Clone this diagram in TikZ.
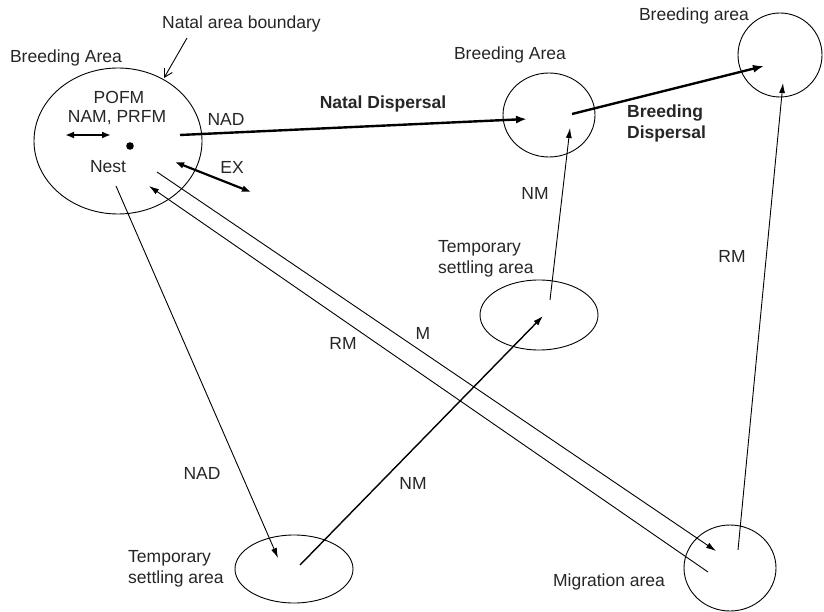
\documentclass[tikz,border=0pt]{standalone}
\usepackage{fontspec}
\setmainfont{Liberation Sans}
\usetikzlibrary{arrows.meta,shapes.geometric}
\begin{document}
\begin{tikzpicture}[x=1pt,y=-1pt,
  lbl/.style={font=\fontsize{17.5}{21}\selectfont, text=black!85, inner sep=0pt, align=left},
  blbl/.style={font=\fontsize{17.5}{21}\selectfont\bfseries, text=black!85, inner sep=0pt, align=left},
  area/.style={ellipse, draw, line width=0.9pt, inner sep=0pt},
  thinarr/.style={line width=0.9pt, -{Latex[length=10pt,width=6pt]}},
  medarr/.style={line width=1.4pt, -{Latex[length=10pt,width=6.5pt]}},
  thickarr/.style={line width=2.4pt, -{Latex[length=11pt,width=8pt]}},
  dblarr/.style={line width=2.2pt, {Latex[length=9pt,width=7pt]}-{Latex[length=9pt,width=7pt]}},
]
\fill[white] (0,0) rectangle (824,612);
\useasboundingbox (0,0) rectangle (824,612);

% areas
\node[area, minimum width=168pt, minimum height=146pt] (A) at (118,141) {};
\node[area, minimum width=92pt, minimum height=84pt] (B) at (549,115) {};
\node[area, minimum width=84pt, minimum height=84pt] (C) at (780,55) {};
\node[area, minimum width=118pt, minimum height=70pt] (T1) at (539,315) {};
\node[area, minimum width=118pt, minimum height=68pt] (T2) at (294,569) {};
\node[area, minimum width=92pt, minimum height=86pt] (Mg) at (730,568) {};

% nest dot
\fill (130,146) circle (3.8pt);
\node (nestdot) at (130,146) {};

% labels
\node[lbl] (lBA) at (66,58) {Breeding Area};
\node[lbl, anchor=west] (lNAB) at (162,24) {Natal area boundary};
\node[lbl] (lPOFM) at (119,97) {POFM};
\node[lbl] (lNAM) at (117,118) {NAM, PRFM};
\node[lbl] (lNest) at (108,167) {Nest};
\node[lbl] (lNAD) at (226,119) {NAD};
\node[lbl] (lEX) at (232,167) {EX};
\node[blbl] (lND) at (383,104) {Natal Dispersal};
\node[lbl] (lBA2) at (510,55) {Breeding Area};
\node[lbl] (lBa3) at (694,16) {Breeding area};
\node[blbl, anchor=west] (lBD) at (627,123) {Breeding\\Dispersal};
\node[lbl] (lNM1) at (535,193) {NM};
\node[lbl] (lRM1) at (732,256) {RM};
\node[lbl, anchor=west] (lT1) at (438,259) {Temporary\\settling area};
\node[lbl] (lM) at (423,333) {M};
\node[lbl] (lRM2) at (343,343) {RM};
\node[lbl] (lNAD2) at (202,473) {NAD};
\node[lbl] (lNM2) at (413,483) {NM};
\node[lbl, anchor=west] (lT2) at (128,569) {Temporary\\settling area};
\node[lbl] (lMg) at (609,582) {Migration area};

% connector endpoints
\coordinate (nabS) at (187,38);
\coordinate (nabE) at (164,78);
\coordinate (dL) at (65,135);
\coordinate (dR) at (111,135);
\coordinate (nadS) at (180,135);
\coordinate (nadE) at (527,119);
\coordinate (exS) at (175,162);
\coordinate (exE) at (251,192);
\coordinate (bdS) at (572,114);
\coordinate (bdE) at (764,66);
\coordinate (nm1S) at (550,300);
\coordinate (nm1E) at (570,128);
\coordinate (rm1S) at (738,550);
\coordinate (rm1E) at (783,83);
\coordinate (nm2S) at (300,565);
\coordinate (nm2E) at (543,316);
\coordinate (nad2S) at (116,186);
\coordinate (nad2E) at (278,558);
\coordinate (mS) at (157,172);
\coordinate (mE) at (716,551);
\coordinate (rm2S) at (708,572);
\coordinate (rm2E) at (149,186);

% connectors
\draw[line width=0.9pt, -{Straight Barb[length=8pt,width=9pt]}] (nabS) -- (nabE);
\draw[dblarr] (dL) -- (dR);
\draw[thickarr] (nadS) -- (nadE);
\draw[dblarr] (exS) -- (exE);
\draw[thickarr] (bdS) -- (bdE);
\draw[thinarr] (nm1S) -- (nm1E);
\draw[thinarr] (rm1S) -- (rm1E);
\draw[medarr] (nm2S) -- (nm2E);
\draw[thinarr] (nad2S) -- (nad2E);
\draw[thinarr] (mS) -- (mE);
\draw[thinarr] (rm2S) -- (rm2E);
\end{tikzpicture}
\end{document}
